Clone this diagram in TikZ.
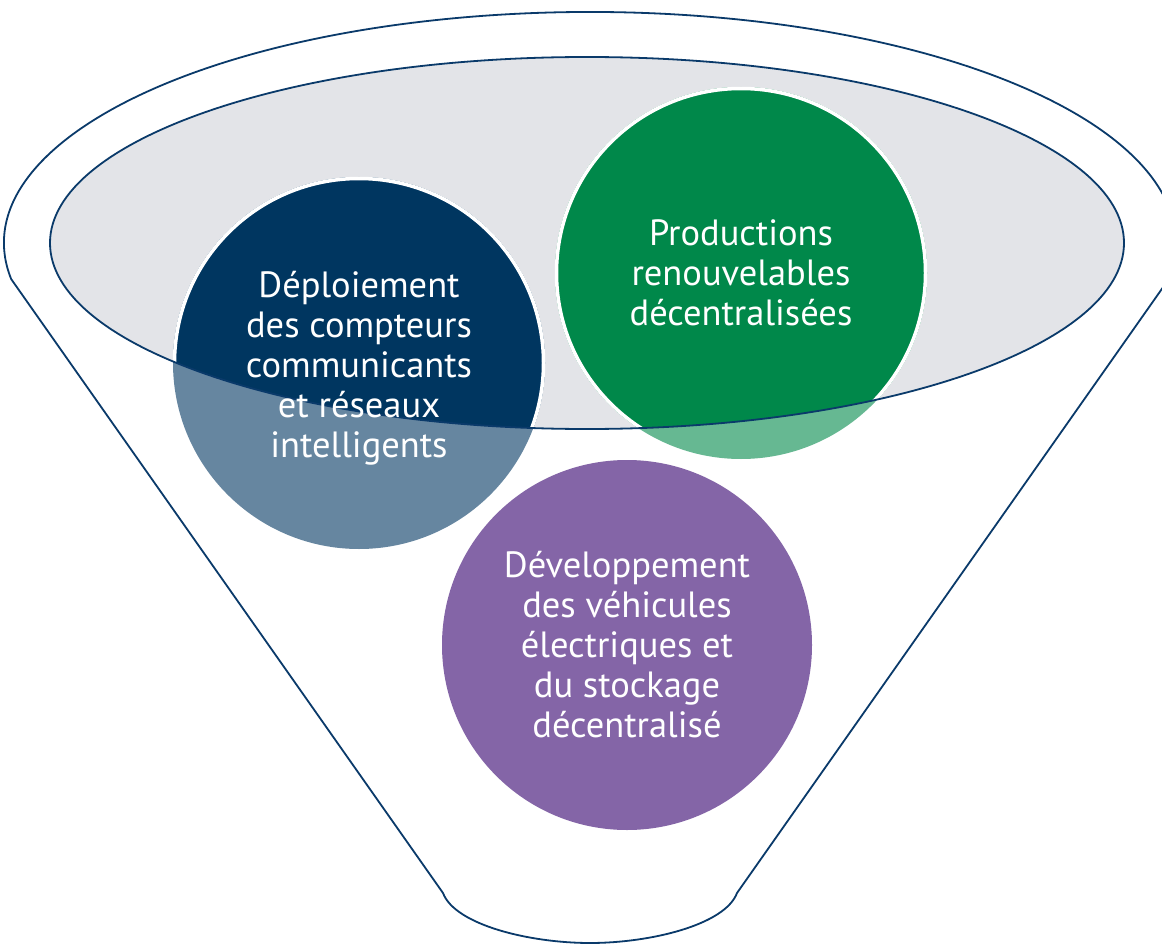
\documentclass[tikz,border=0pt]{standalone}
\usepackage{fontspec}
\setmainfont{PT Sans}
\definecolor{navy}{HTML}{0A3A6A}
\definecolor{ellgrey}{HTML}{E3E4E8}
\definecolor{blueDark}{HTML}{003660}
\definecolor{greenDark}{HTML}{00884A}
\definecolor{purpleDisc}{HTML}{8465A7}
\colorlet{blueLight}{blueDark!60!white}
\colorlet{greenLight}{greenDark!60!white}
\tikzset{
  outline/.style={draw=navy, line width=1.8pt},
  ring/.style={draw=white, line width=3.5pt},
  disctext/.style={text=white, align=center, inner sep=0pt,
    font=\fontsize{36.5}{40}\selectfont},
  topellipse/.style={x radius=537pt, y radius=186pt}
}
\begin{document}
\begin{tikzpicture}[x=1pt,y=-1pt]
\useasboundingbox (0,0) rectangle (1162,944);
\clip (0,0) rectangle (1162,944);
\fill[white] (0,0) rectangle (1162,944);

% funnel body: rim of the outer ellipse, straight sides and rounded foot
\coordinate (kinkL) at (11.2,279.1);
\coordinate (kinkR) at (1168.8,279.1);
\coordinate (footL) at (443,893);
\coordinate (footR) at (737,893);
\coordinate (footB) at (590,943);
\draw[outline] (kinkL) arc[start angle=189, end angle=-9, x radius=586pt, y radius=231pt]
  -- (footR) .. controls (725,925) and (650,943) .. (footB)
  .. controls (530,943) and (455,925) .. (footL) -- cycle;

% top opening of the funnel
\coordinate (cE) at (587,243);
\fill[ellgrey] (cE) ellipse[topellipse];

% discs: pale below the opening, full colour inside it
\coordinate (cB) at (359,363);
\coordinate (cG) at (741,273);
\coordinate (cP) at (627,645);
\fill[blueLight] (cB) circle[radius=186pt];
\fill[greenLight] (cG) circle[radius=186pt];
\begin{scope}
  \clip (cE) ellipse[topellipse];
  \fill[blueDark] (cB) circle[radius=186pt];
  \fill[greenDark] (cG) circle[radius=186pt];
  \draw[ring] (cB) circle[radius=184.5pt];
  \draw[ring] (cG) circle[radius=184.5pt];
\end{scope}
\fill[purpleDisc] (cP) circle[radius=185pt];

\draw[outline] (cE) ellipse[topellipse];

% labels
\node[disctext] (tB) at ([yshift=-5pt]cB) {Déploiement\\des compteurs\\communicants\\et réseaux\\intelligents};
\node[disctext] (tG) at (cG) {Productions\\renouvelables\\décentralisées};
\node[disctext] (tP) at (cP) {Développement\\des véhicules\\électriques et\\du stockage\\décentralisé};
\end{tikzpicture}
\end{document}
